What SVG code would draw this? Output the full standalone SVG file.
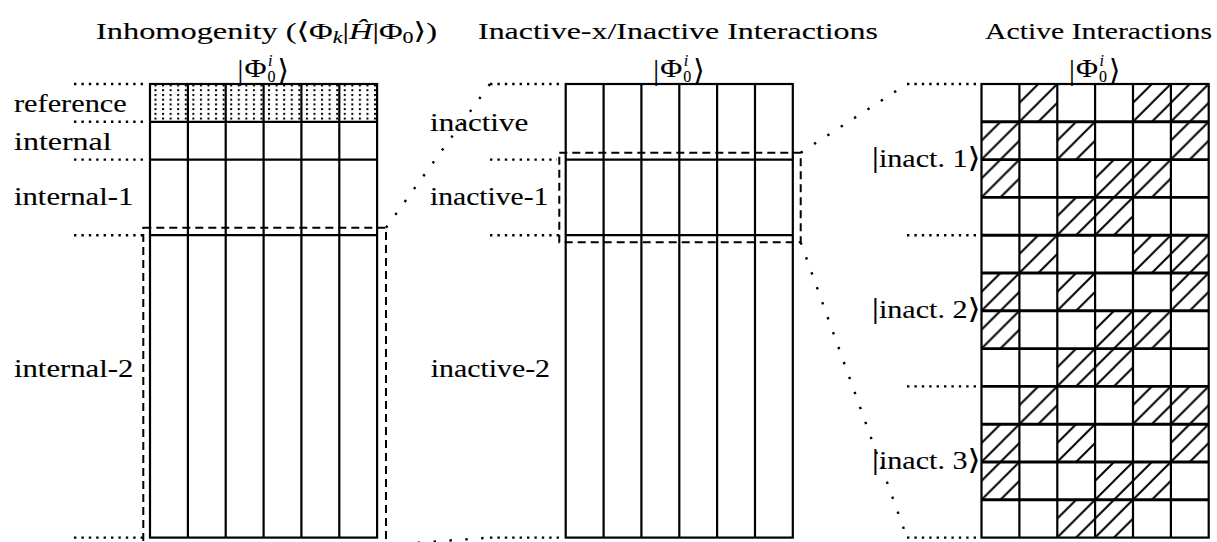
<svg xmlns="http://www.w3.org/2000/svg" width="1217" height="542" viewBox="0 0 1217 542">
  <style>
    text { font-family: "Liberation Serif", "DejaVu Serif", serif; fill: #000; stroke: #000; stroke-width: 0.12; }
    .title { font-size: 23.5px; }
    .lbl { font-size: 25px; }
    .sm { font-size: 16px; }
    .it { font-style: italic; }
    .grid { fill: none; stroke: #000; stroke-width: 2.2; }
    .rule { fill: none; stroke: #000; stroke-width: 2.9; }
    .dot { fill: none; stroke: #000; stroke-width: 2.4; stroke-dasharray: 2.4 5; }
    .diag { fill: none; stroke: #000; stroke-width: 2.4; stroke-dasharray: 2.4 13.5; }
    .dash { fill: none; stroke: #000; stroke-width: 2; stroke-dasharray: 8 5; }
    .hc { fill: url(#hatch); }
  </style>
  <defs>
    <!-- stippled fill for the reference row -->
    <pattern id="dots" patternUnits="userSpaceOnUse" x="154.5" y="84.5" width="7.57" height="4.725">
      <rect x="0" y="0" width="2" height="2" fill="#000"/>
    </pattern>
    <!-- 45 degree hatching for active-interaction cells -->
    <pattern id="hatch" patternUnits="userSpaceOnUse" x="981.5" y="84" width="18.925" height="18.9">
      <path d="M0,18.9 L18.925,0 M-2,2 L2,-2 M16.925,20.9 L20.925,16.9" stroke="#000" stroke-width="2" fill="none"/>
    </pattern>
    <!-- ket |Phi_0^i> placed above each block -->
    <g id="ket">
      <text x="-2.5" y="79.5" style="font-size:29px">|</text>
      <text x="4.5" y="76.5" style="font-size:24.5px" textLength="22" lengthAdjust="spacingAndGlyphs">Φ</text>
      <text x="28" y="66" class="sm it">i</text>
      <text x="27.5" y="82" class="sm">0</text>
      <text x="37.5" y="80" style="font-size:29px">⟩</text>
    </g>
  </defs>

  <rect width="1217" height="542" fill="#fff"/>

  <!-- column titles -->
  <g id="titles">
    <text class="title" x="96" y="39" textLength="341" lengthAdjust="spacingAndGlyphs">Inhomogenity (⟨Φ<tspan class="sm it" dy="4">k</tspan><tspan dy="-4">|</tspan><tspan class="it">Ĥ</tspan>|Φ<tspan class="sm" dy="4">0</tspan><tspan dy="-4">⟩)</tspan></text>
    <text class="title" x="478" y="39" textLength="400" lengthAdjust="spacingAndGlyphs">Inactive-x/Inactive Interactions</text>
    <text class="title" x="985" y="39" textLength="227" lengthAdjust="spacingAndGlyphs">Active Interactions</text>
    <use href="#ket" x="240" y="0"/>
    <use href="#ket" x="655.7" y="0"/>
    <use href="#ket" x="1071.5" y="0"/>
  </g>

  <!-- left block: reference / internal partitions -->
  <g id="block-inhomogenity">
    <rect x="150" y="84" width="227.1" height="37.8" fill="url(#dots)"/>
    <rect class="grid" x="150" y="84" width="227.1" height="453.6"/>
    <path class="grid" d="M187.9,84V537.6 M225.7,84V537.6 M263.6,84V537.6 M301.4,84V537.6 M339.3,84V537.6 M150,121.8H377.1 M150,159.6H377.1 M150,235.2H377.1"/>
    <text class="lbl" x="14" y="112" textLength="112.7" lengthAdjust="spacingAndGlyphs">reference</text>
    <text class="lbl" x="14" y="150" textLength="97.7" lengthAdjust="spacingAndGlyphs">internal</text>
    <text class="lbl" x="14" y="205" textLength="119.3" lengthAdjust="spacingAndGlyphs">internal-1</text>
    <text class="lbl" x="14" y="376.5" textLength="119.3" lengthAdjust="spacingAndGlyphs">internal-2</text>
  </g>

  <!-- middle block: inactive partitions -->
  <g id="block-inactive">
    <rect class="grid" x="565.7" y="84" width="227.1" height="453.6"/>
    <path class="grid" d="M603.6,84V537.6 M641.4,84V537.6 M679.3,84V537.6 M717.1,84V537.6 M755,84V537.6 M565.7,159.6H792.8 M565.7,235.2H792.8"/>
    <text class="lbl" x="430" y="131" textLength="98.3" lengthAdjust="spacingAndGlyphs">inactive</text>
    <text class="lbl" x="430" y="205" textLength="118.3" lengthAdjust="spacingAndGlyphs">inactive-1</text>
    <text class="lbl" x="430.7" y="376.5" textLength="119.3" lengthAdjust="spacingAndGlyphs">inactive-2</text>
  </g>

  <!-- right block: active interactions per inactive state -->
  <g id="block-active">
    <g id="hatched-cells">
      <rect class="hc" x="1019.4" y="84" width="37.9" height="37.8"/>
      <rect class="hc" x="1133" y="84" width="37.9" height="37.8"/>
      <rect class="hc" x="1170.9" y="84" width="37.8" height="37.8"/>
      <rect class="hc" x="981.5" y="121.8" width="37.9" height="37.8"/>
      <rect class="hc" x="1057.3" y="121.8" width="37.8" height="37.8"/>
      <rect class="hc" x="1170.9" y="121.8" width="37.8" height="37.8"/>
      <rect class="hc" x="981.5" y="159.6" width="37.9" height="37.8"/>
      <rect class="hc" x="1095.1" y="159.6" width="37.9" height="37.8"/>
      <rect class="hc" x="1133" y="159.6" width="37.9" height="37.8"/>
      <rect class="hc" x="1057.3" y="197.4" width="37.8" height="37.8"/>
      <rect class="hc" x="1095.1" y="197.4" width="37.9" height="37.8"/>

      <rect class="hc" x="1019.4" y="235.2" width="37.9" height="37.8"/>
      <rect class="hc" x="1133" y="235.2" width="37.9" height="37.8"/>
      <rect class="hc" x="1170.9" y="235.2" width="37.8" height="37.8"/>
      <rect class="hc" x="981.5" y="273" width="37.9" height="37.8"/>
      <rect class="hc" x="1057.3" y="273" width="37.8" height="37.8"/>
      <rect class="hc" x="1170.9" y="273" width="37.8" height="37.8"/>
      <rect class="hc" x="981.5" y="310.8" width="37.9" height="37.8"/>
      <rect class="hc" x="1095.1" y="310.8" width="37.9" height="37.8"/>
      <rect class="hc" x="1133" y="310.8" width="37.9" height="37.8"/>
      <rect class="hc" x="1057.3" y="348.6" width="37.8" height="37.8"/>
      <rect class="hc" x="1095.1" y="348.6" width="37.9" height="37.8"/>

      <rect class="hc" x="1019.4" y="386.4" width="37.9" height="37.8"/>
      <rect class="hc" x="1133" y="386.4" width="37.9" height="37.8"/>
      <rect class="hc" x="1170.9" y="386.4" width="37.8" height="37.8"/>
      <rect class="hc" x="981.5" y="424.2" width="37.9" height="37.8"/>
      <rect class="hc" x="1057.3" y="424.2" width="37.8" height="37.8"/>
      <rect class="hc" x="1170.9" y="424.2" width="37.8" height="37.8"/>
      <rect class="hc" x="981.5" y="462" width="37.9" height="37.8"/>
      <rect class="hc" x="1095.1" y="462" width="37.9" height="37.8"/>
      <rect class="hc" x="1133" y="462" width="37.9" height="37.8"/>
      <rect class="hc" x="1057.3" y="499.8" width="37.8" height="37.8"/>
      <rect class="hc" x="1095.1" y="499.8" width="37.9" height="37.8"/>
    </g>
    <rect class="grid" x="981.5" y="84" width="227.2" height="453.6"/>
    <path class="grid" d="M1019.4,84V537.6 M1057.3,84V537.6 M1095.1,84V537.6 M1133,84V537.6 M1170.9,84V537.6"/>
    <path class="rule" d="M981.5,121.8H1208.7 M981.5,159.6H1208.7 M981.5,197.4H1208.7 M981.5,235.2H1208.7 M981.5,273H1208.7 M981.5,310.8H1208.7 M981.5,348.6H1208.7 M981.5,386.4H1208.7 M981.5,424.2H1208.7 M981.5,462H1208.7 M981.5,499.8H1208.7"/>
    <text class="lbl" x="871.7" y="167" textLength="109" lengthAdjust="spacingAndGlyphs"><tspan style="font-size:30px">|</tspan>inact. 1<tspan style="font-size:28px">⟩</tspan></text>
    <text class="lbl" x="871.7" y="318" textLength="109" lengthAdjust="spacingAndGlyphs"><tspan style="font-size:30px">|</tspan>inact. 2<tspan style="font-size:28px">⟩</tspan></text>
    <text class="lbl" x="871.7" y="469" textLength="109" lengthAdjust="spacingAndGlyphs"><tspan style="font-size:30px">|</tspan>inact. 3<tspan style="font-size:28px">⟩</tspan></text>
  </g>

  <!-- guide lines, selection frames and zoom connectors -->
  <g id="connectors">
    <path class="dot" d="M74,84H146 M74,121.8H146 M74,159.6H146 M74,235.2H146 M74,537.6H146"/>
    <rect class="dash" x="143.3" y="227.7" width="242.7" height="330"/>
    <path class="diag" d="M386,227.7 L490,84 M386,545 L490,537.6"/>
    <path class="dot" d="M490,84H563 M490,159.6H557 M490,235.2H563 M490,537.6H563"/>
    <rect class="dash" x="559.3" y="152.7" width="241.4" height="89.6"/>
    <path class="diag" d="M800.7,152.7 L907,84 M800.7,242.3 L907,537.6"/>
    <path class="dot" d="M907,84H980 M907,235.2H980 M907,386.4H980 M907,537.6H980"/>
  </g>
</svg>
